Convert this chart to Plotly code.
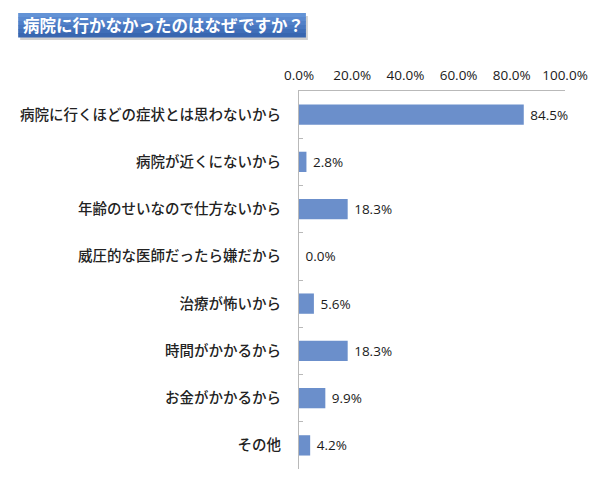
import plotly.graph_objects as go

# --- Datos ---
title_text = "病院に行かなかったのはなぜですか？"
reasons = [
    "病院に行くほどの症状とは思わないから",
    "病院が近くにないから",
    "年齢のせいなので仕方ないから",
    "威圧的な医師だったら嫌だから",
    "治療が怖いから",
    "時間がかかるから",
    "お金がかかるから",
    "その他",
]
percents = [84.5, 2.8, 18.3, 0.0, 5.6, 18.3, 9.9, 4.2]
x_ticks = [0, 20, 40, 60, 80, 100]

FONT_JP = "Noto Sans CJK JP"
FONT_NUM = "Open Sans, " + FONT_JP
BAR_COLOR = "#6b8fcb"
AXIS_COLOR = "#b9b9b9"

# geometria en pixeles del area de trazado
W, H = 600, 481
L, R, T, B = 299, 32, 91, 12
pw, ph = W - L - R, H - T - B

def px_x(x):
    return (x - L) / pw

def px_y(y):
    return 1 - (y - T) / ph

fig = go.Figure()
fig.add_trace(go.Bar(
    x=percents,
    y=reasons,
    orientation="h",
    marker=dict(color=BAR_COLOR, line=dict(width=0)),
    text=[f"\u00a0{p:.1f}%" for p in percents],
    textposition="outside",
    textfont=dict(family=FONT_NUM, size=13.5, color="#1a1a1a"),
    cliponaxis=False,
    hoverinfo="skip",
))

fig.update_layout(
    width=W,
    height=H,
    margin=dict(l=L, r=R, t=T, b=B),
    paper_bgcolor="white",
    plot_bgcolor="white",
    showlegend=False,
    bargap=0.57,
    font=dict(family=FONT_JP, color="#222222"),
)

fig.update_xaxes(
    side="top",
    range=[0, 100],
    tickvals=x_ticks,
    ticktext=[f"{v:.1f}%" for v in x_ticks],
    tickfont=dict(family=FONT_NUM, size=13.5, color="#1a1a1a"),
    showgrid=False,
    zeroline=False,
    showline=True,
    linecolor=AXIS_COLOR,
    linewidth=1,
    ticks="",
    ticklabelstandoff=5,
)

fig.update_yaxes(
    categoryorder="array",
    categoryarray=reasons,
    autorange="reversed",
    tickfont=dict(family=FONT_JP, size=14.5, color="#222222", weight=500),
    showgrid=False,
    zeroline=False,
    showline=True,
    linecolor=AXIS_COLOR,
    linewidth=1,
    ticks="inside",
    tickson="boundaries",
    ticklen=4,
    tickcolor=AXIS_COLOR,
    ticklabelstandoff=14,
)

# Caja del titulo con degradado azul
x0, x1 = 15, 306
y0, y1 = 13, 37
shapes = [dict(
    type="rect", xref="paper", yref="paper",
    x0=px_x(x0 + 2), x1=px_x(x1 + 2), y0=px_y(y1 + 3), y1=px_y(y0 + 3),
    fillcolor="rgba(0,0,0,0.18)", line=dict(width=0), layer="below",
)]
stripes = ["#6393d6", "#5a89cf", "#5180c8", "#4877c0", "#3f6eb8", "#3866b0"]
n = len(stripes)
for i, c in enumerate(stripes):
    ya = y0 + (y1 - y0) * i / n
    yb = y0 + (y1 - y0) * (i + 1) / n
    shapes.append(dict(
        type="rect", xref="paper", yref="paper",
        x0=px_x(x0), x1=px_x(x1), y0=px_y(yb + 0.5), y1=px_y(ya),
        fillcolor=c, line=dict(width=0), layer="below",
    ))
fig.update_layout(shapes=shapes)

fig.add_annotation(
    text=f"<b>{title_text}</b>",
    xref="paper", yref="paper",
    x=px_x(x0 + 3), y=px_y((y0 + y1) / 2),
    xanchor="left", yanchor="middle",
    showarrow=False,
    font=dict(family=FONT_JP, size=16.5, color="white"),
)

# quitar el margen del body para que el grafico quede en (0,0)
fig.write_html(
    "out.html",
    config={"displayModeBar": False},
    post_script="document.body.style.margin='0';",
)
